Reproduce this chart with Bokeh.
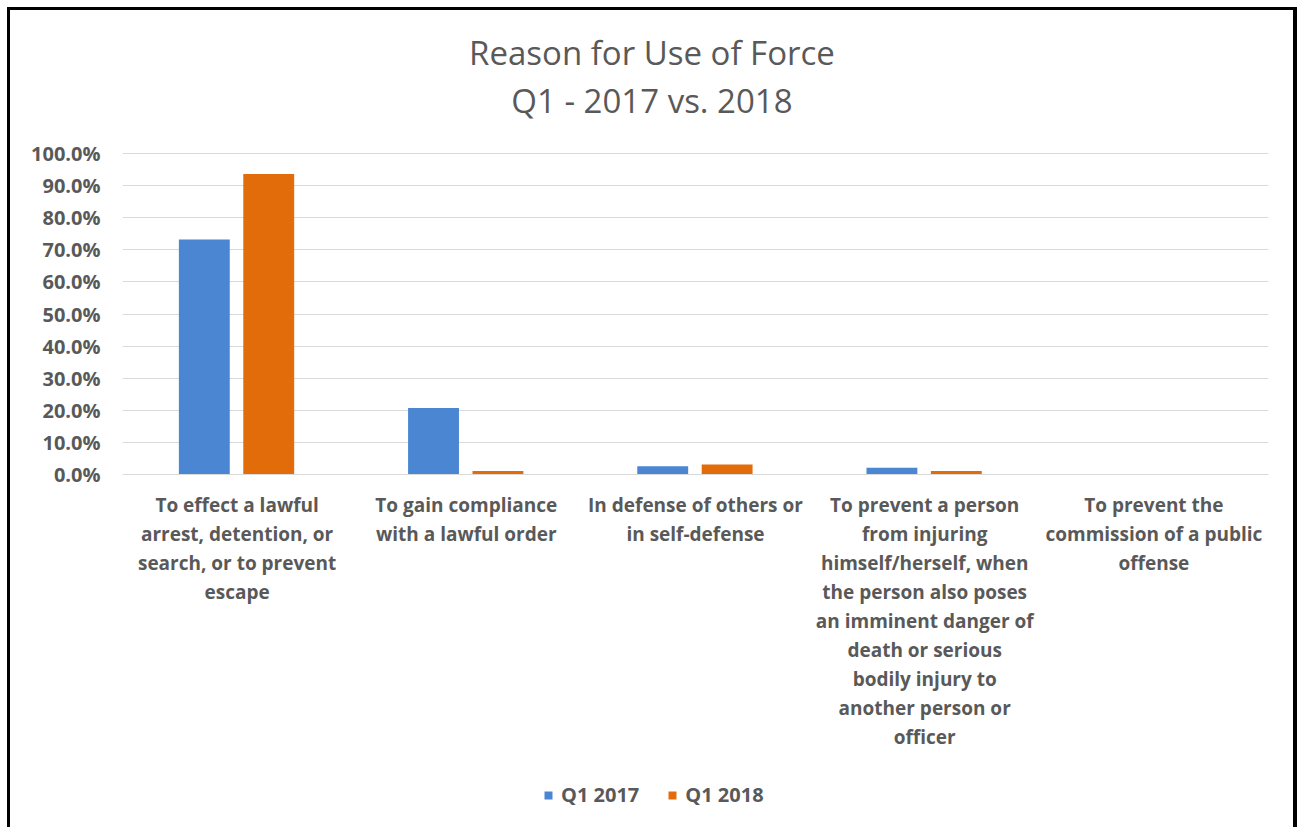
from bokeh.plotting import figure
from bokeh.models import (Range1d, FactorRange, NumeralTickFormatter, FixedTicker,
                          Label, Legend, LegendItem, ColumnDataSource)
from bokeh.transform import dodge
from bokeh.embed import file_html
from bokeh.resources import INLINE

categories = [
    "To effect a lawful\narrest, detention, or\nsearch, or to prevent\nescape",
    "To gain compliance\nwith a lawful order",
    "In defense of others or\nin self-defense",
    "To prevent a person\nfrom injuring\nhimself/herself, when\nthe person also poses\nan imminent danger of\ndeath or serious\nbodily injury to\nanother person or\nofficer",
    "To prevent the\ncommission of a public\noffense",
]
q1_2017 = [0.732, 0.207, 0.026, 0.021, 0.0]
q1_2018 = [0.936, 0.011, 0.031, 0.011, 0.0]
y_ticks = [0.0, 0.1, 0.2, 0.3, 0.4, 0.5, 0.6, 0.7, 0.8, 0.9, 1.0]
series_names = ["Q1 2017", "Q1 2018"]
title_lines = ["Reason for Use of Force", "Q1 - 2017 vs. 2018"]

BLUE = "#4A86D2"
ORANGE = "#E36C0A"
GREY = "#595959"
FONT = "Open Sans"

src = ColumnDataSource(dict(cat=categories, a=q1_2017, b=q1_2018))

# The frame covers the whole chart area (321 px per 100 %), so that the title,
# category labels and legend all sit inside it.
p = figure(x_range=FactorRange(factors=categories, range_padding=0),
           y_range=Range1d(-1.0997, 1.4455), frame_width=1146, frame_height=817,
           title=None, output_backend="svg", toolbar_location=None,
           min_border_left=112, min_border_right=25,
           min_border_top=0, min_border_bottom=0)
p.styles = {"box-sizing": "content-box", "margin-left": "7px", "margin-top": "7px",
            "border-top": "3px solid black", "border-left": "3px solid black",
            "border-right": "4px solid black"}

r1 = p.vbar(x=dodge("cat", -0.143, range=p.x_range), top="a", width=0.222,
            source=src, fill_color=BLUE, line_color=None)
r2 = p.vbar(x=dodge("cat", 0.138, range=p.x_range), top="b", width=0.222,
            source=src, fill_color=ORANGE, line_color=None)

for txt, ty in zip(title_lines, [1.3146, 1.1651]):
    p.add_layout(Label(x=2.31, y=ty, text=txt, text_align="center",
                       text_baseline="middle", text_font=FONT,
                       text_font_size="33px", text_color=GREY))

p.outline_line_color = None
p.xgrid.grid_line_color = None
p.ygrid.ticker = FixedTicker(ticks=y_ticks)
p.ygrid.grid_line_color = "#d9d9d9"

p.yaxis.ticker = FixedTicker(ticks=y_ticks)
p.yaxis.formatter = NumeralTickFormatter(format="0.0%")
p.yaxis.axis_line_color = None
p.yaxis.major_tick_line_color = None
p.yaxis.minor_tick_line_color = None
p.yaxis.major_label_standoff = 16
p.yaxis.major_label_text_font = FONT
p.yaxis.major_label_text_font_size = "20px"
p.yaxis.major_label_text_font_style = "bold"
p.yaxis.major_label_text_color = GREY

p.xaxis.fixed_location = 0
p.xaxis.axis_line_color = "#d9d9d9"
p.xaxis.major_tick_line_color = None
p.xaxis.minor_tick_line_color = None
p.xaxis.major_label_standoff = 11
p.xaxis.major_label_text_font = FONT
p.xaxis.major_label_text_font_size = "19px"
p.xaxis.major_label_text_font_style = "bold"
p.xaxis.major_label_text_color = GREY
p.xaxis.major_label_text_line_height = 1.12

legend = Legend(items=[LegendItem(label=series_names[0], renderers=[r1]),
                       LegendItem(label=series_names[1], renderers=[r2])],
                orientation="horizontal", location=(421, 19),
                label_text_font=FONT, label_text_font_size="20px",
                label_text_font_style="bold", label_text_color=GREY,
                glyph_width=10, glyph_height=10, label_standoff=8, spacing=28,
                border_line_color=None, background_fill_alpha=0,
                margin=0, padding=0)
p.add_layout(legend, "center")

p.background_fill_color = "white"
p.border_fill_color = "white"

open("out.html", "w").write(file_html(p, INLINE))
